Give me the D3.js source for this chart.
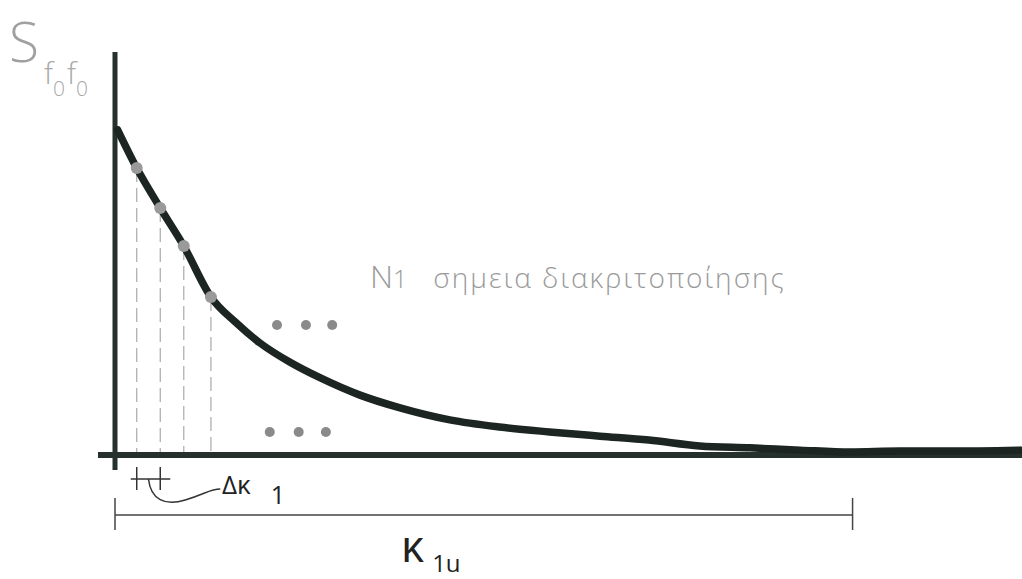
<!DOCTYPE html>
<html>
<head>
<meta charset="utf-8">
<script src="https://cdn.jsdelivr.net/npm/d3@7"></script>
<style>
body{margin:0;background:#fff}
text{font-family:"Open Sans","DejaVu Sans",sans-serif}
</style>
</head>
<body>
<script>
const m={width:1022,height:579}

// spectrum curve, k in % of plotted range, S in % of peak
const curveK=[0.3,2.4,5,7.6,10.6,13.3,16,19.3,22.7,27,31.5,37,42.5,48,53.6,59,64.6,70.2,75.7,81.2,86.7,92.3,100]
const curveS=[100,88.3,76,64.3,48.6,40.9,34.5,28.6,23.7,18.5,14.5,10.8,8.6,7.1,5.8,4.6,2.8,2.2,1.5,0.9,1.2,1.2,1.5]
// discretization points
const pointK=[2.4,5,7.6,10.6]
const pointS=[88.3,76,64.3,48.6]
// ellipsis marks
const dotsUpK=[17.9,21.1,24], dotsUpS=[40,40,40]
const dotsLowK=[17.1,20.3,23.3], dotsLowS=[7.1,7.1,7.1]
const kMax=81.5

const x=d3.scaleLinear().domain([0,100]).range([115,1020])
const y=d3.scaleLinear().domain([0,100]).range([455,130])

const svg=d3.select("body").append("svg")
    .attr("width",m.width)
    .attr("height",m.height)

const g=svg.append("g")

// dashed drop lines
g.selectAll("line.drop")
    .data(pointK)
    .enter().append("line")
    .attr("class","drop")
    .attr("x1",d=>x(d)).attr("x2",d=>x(d))
    .attr("y1",(d,i)=>y(pointS[i])).attr("y2",y(0))
    .attr("stroke","#aaa").attr("stroke-width",1.2)
    .attr("stroke-dasharray","14 6")

// axes
g.append("line")
    .attr("x1",98).attr("x2",1022)
    .attr("y1",y(0)).attr("y2",y(0))
    .attr("stroke","#26302c").attr("stroke-width",6)
g.append("line")
    .attr("x1",x(0)).attr("x2",x(0))
    .attr("y1",y(124)).attr("y2",470)
    .attr("stroke","#26302c").attr("stroke-width",5)

// the curve
const line=d3.line()
    .x((d,i)=>x(curveK[i]))
    .y(d=>y(d))
    .curve(d3.curveMonotoneX)
g.append("path")
    .datum(curveS)
    .attr("d",line)
    .attr("fill","none")
    .attr("stroke","#1c2521")
    .attr("stroke-width",7.5)
    .attr("stroke-linecap","round")

g.selectAll("circle.pt")
    .data(pointK)
    .enter().append("circle")
    .attr("class","pt")
    .attr("cx",d=>x(d)).attr("cy",(d,i)=>y(pointS[i]))
    .attr("r",6).attr("fill","#9a9a9a")

g.selectAll("circle.up")
    .data(dotsUpK)
    .enter().append("circle")
    .attr("cx",d=>x(d)).attr("cy",(d,i)=>y(dotsUpS[i]))
    .attr("r",5).attr("fill","#8a8a8a")
g.selectAll("circle.low")
    .data(dotsLowK)
    .enter().append("circle")
    .attr("cx",d=>x(d)).attr("cy",(d,i)=>y(dotsLowS[i]))
    .attr("r",5).attr("fill","#8a8a8a")

// delta k marker
const t0=x(pointK[0]), t1=x(pointK[1])
g.append("line").attr("x1",t0-6).attr("x2",t1+10).attr("y1",479).attr("y2",479)
    .attr("stroke","#333").attr("stroke-width",1.5)
g.selectAll("line.tk")
    .data([pointK[0],pointK[1]])
    .enter().append("line")
    .attr("x1",d=>x(d)).attr("x2",d=>x(d))
    .attr("y1",467).attr("y2",490)
    .attr("stroke","#333").attr("stroke-width",1.5)
g.append("path")
    .attr("d",`M${(t0+t1)/2},479 C${t0+14},500 ${t1+5},506 ${t1+25},500 S${t1+50},489 ${t1+60},489`)
    .attr("fill","none").attr("stroke","#333").attr("stroke-width",1.5)
const dk=g.append("text").attr("x",222).attr("y",494).attr("fill","#222").attr("font-family","DejaVu Sans")
dk.append("tspan").attr("font-size",26).text("Δκ")
dk.append("tspan").attr("font-size",25).attr("dx",20).attr("dy",10).text("1")

// k1u bracket
g.append("line").attr("x1",x(0)).attr("x2",x(kMax)).attr("y1",515).attr("y2",515)
    .attr("stroke","#444").attr("stroke-width",1.5)
g.selectAll("line.br")
    .data([0,kMax])
    .enter().append("line")
    .attr("x1",d=>x(d)).attr("x2",d=>x(d))
    .attr("y1",498).attr("y2",530)
    .attr("stroke","#444").attr("stroke-width",1.5)
const ku=g.append("text").attr("x",401).attr("y",562).attr("fill","#222").attr("font-family","DejaVu Sans")
ku.append("tspan").attr("font-size",44).text("κ")
ku.append("tspan").attr("font-size",24).attr("dx",8).attr("dy",10).text("1u")

// labels
g.append("text").attr("x",9).attr("y",62).attr("fill","#a0a0a0").attr("font-weight",300)
    .attr("font-size",55).text("S")
const sub=g.append("text").attr("x",44).attr("y",84).attr("fill","#a8a8a8").attr("font-weight",300)
sub.append("tspan").attr("font-size",30).text("f")
sub.append("tspan").attr("font-size",21).attr("dy",12).text("0")
sub.append("tspan").attr("font-size",30).attr("dy",-12).attr("dx",2).text("f")
sub.append("tspan").attr("font-size",21).attr("dy",12).text("0")

const nl=g.append("text").attr("x",370).attr("y",288).attr("fill","#9a9a9a").attr("font-weight",300)
nl.append("tspan").attr("font-size",32).text("N")
nl.append("tspan").attr("font-size",25).text("1")
nl.append("tspan").attr("font-size",28).attr("dx",26).attr("letter-spacing",2).text("σημεια διακριτοποίησης")
</script>
</body>
</html>
